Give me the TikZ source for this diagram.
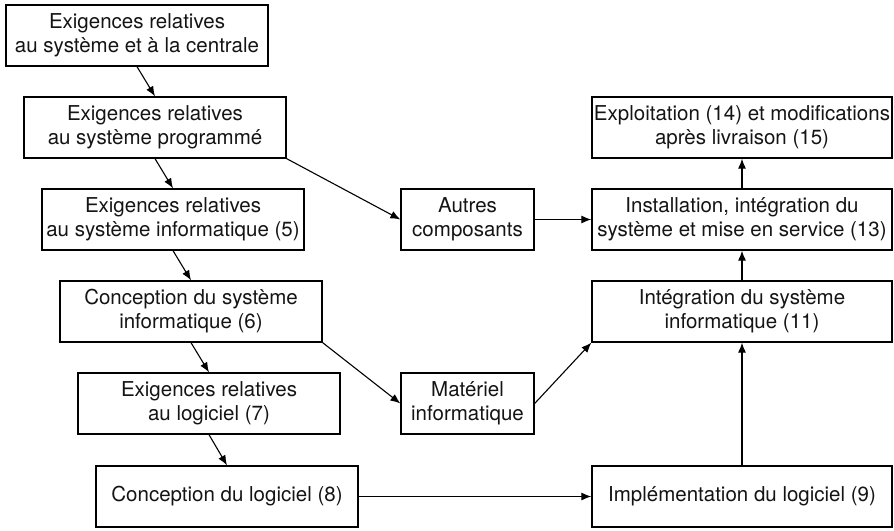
\documentclass[tikz,border=0pt]{standalone}
\usepackage{fontspec}
\setmainfont{TeX Gyre Heros}
\usetikzlibrary{arrows.meta}

\begin{document}
\begin{tikzpicture}[x=1pt,y=-1pt,
  etape/.style={draw=black,line width=1.3pt,align=center,inner sep=0pt,minimum height=61pt,font=\fontsize{20.5}{24}\selectfont,text=black!92},
  fleche/.style={-{Latex[length=10pt,width=8pt]},line width=1.1pt}]
\useasboundingbox (0,0) rectangle (894,530);
% colonne de gauche
\node[etape,minimum width=262pt](centrale) at (137,35.5) {Exigences relatives\\au système et à la centrale};
\node[etape,minimum width=262pt](programme) at (155,127.5) {Exigences relatives\\au système programmé};
\node[etape,minimum width=262pt](sysinfo) at (173,219.5) {Exigences relatives\\au système informatique (5)};
\node[etape,minimum width=262pt](concsys) at (191,311.5) {Conception du système\\informatique (6)};
\node[etape,minimum width=262pt](exlog) at (209,403.5) {Exigences relatives\\au logiciel (7)};
\node[etape,minimum width=262pt](conclog) at (227,496.5) {Conception du logiciel (8)};
% colonne du milieu
\node[etape,minimum width=133pt](autres) at (467.5,219.5) {Autres\\composants};
\node[etape,minimum width=133pt](materiel) at (467.5,403.5) {Matériel\\informatique};
% colonne de droite
\node[etape,minimum width=300pt](exploit) at (742,127.5) {Exploitation (14) et modifications\\après livraison (15)};
\node[etape,minimum width=300pt](install) at (742,219.5) {Installation, intégration du\\système et mise en service (13)};
\node[etape,minimum width=300pt](integ) at (742,311.5) {Intégration du système\\informatique (11)};
\node[etape,minimum width=300pt](implem) at (742,496.5) {Implémentation du logiciel (9)};
% fleches
\draw[fleche](centrale.south)--(programme.north);
\draw[fleche](programme.south)--(sysinfo.north);
\draw[fleche](sysinfo.south)--(concsys.north);
\draw[fleche](concsys.south)--(exlog.north);
\draw[fleche](exlog.south)--(conclog.north);
\draw[fleche](programme.south east)--(autres.west);
\draw[fleche](concsys.south east)--(materiel.west);
\draw[fleche](conclog.east)--(implem.west);
\draw[fleche](autres.east)--(install.west);
\draw[fleche](materiel.east)--(integ.south west);
\draw[fleche](implem.north)--(integ.south);
\draw[fleche](integ.north)--(install.south);
\draw[fleche](install.north)--(exploit.south);
\end{tikzpicture}
\end{document}
